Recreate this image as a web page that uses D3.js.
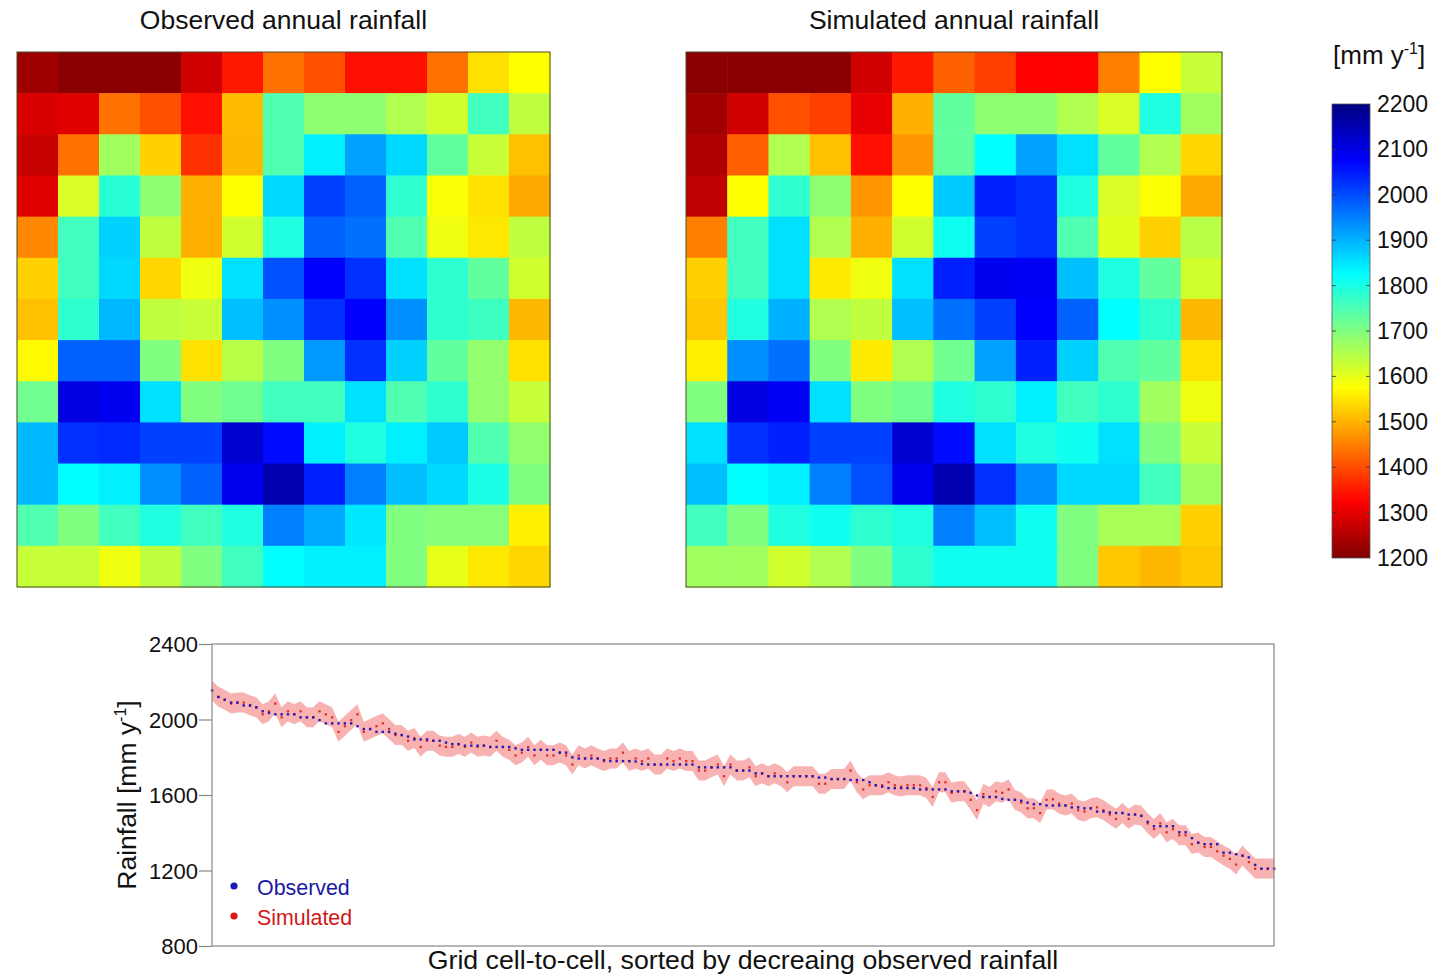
<!DOCTYPE html>
<html><head><meta charset="utf-8">
<script src="https://cdn.jsdelivr.net/npm/d3@7"></script>
<style>body{margin:0;background:#fff;} svg{display:block;font-family:Arial,"Liberation Sans",sans-serif;}</style>
</head><body>
<svg id="c" width="1453" height="976"></svg>
<script>
// Observed annual rainfall grid (13x13, rows top to bottom), mm/y
const observed = [
 [1230,1210,1210,1210,1279,1348,1435,1403,1340,1340,1435,1545,1575],
 [1287,1295,1435,1403,1340,1508,1747,1685,1685,1652,1620,1762,1637],
 [1270,1435,1668,1530,1372,1505,1747,1840,1918,1862,1730,1630,1513],
 [1295,1612,1785,1685,1497,1575,1862,2012,1980,1778,1580,1545,1490],
 [1458,1762,1870,1637,1497,1620,1794,1980,1965,1747,1590,1552,1637],
 [1530,1762,1862,1535,1590,1855,1997,2075,2028,1855,1780,1730,1620],
 [1513,1780,1895,1637,1630,1888,1935,2028,2075,1935,1780,1765,1505],
 [1570,1980,1980,1700,1545,1645,1700,1925,2028,1870,1730,1680,1545],
 [1715,2105,2090,1855,1700,1715,1762,1762,1855,1747,1780,1680,1630],
 [1895,2028,2035,2012,2012,2120,2065,1840,1794,1840,1878,1747,1680],
 [1895,1825,1840,1935,1980,2090,2155,2044,1950,1888,1862,1800,1700],
 [1747,1700,1762,1794,1762,1794,1950,1910,1848,1700,1693,1693,1560],
 [1630,1630,1590,1637,1700,1762,1825,1840,1840,1700,1598,1552,1535]
];
// Simulated annual rainfall grid
const simulated = [
 [1210,1210,1210,1210,1279,1348,1420,1387,1325,1325,1450,1575,1630],
 [1232,1279,1403,1387,1302,1497,1730,1685,1685,1652,1612,1794,1668],
 [1245,1420,1652,1513,1340,1474,1730,1825,1918,1855,1730,1652,1535],
 [1262,1575,1780,1685,1474,1575,1878,2044,2028,1794,1612,1578,1490],
 [1450,1762,1855,1652,1497,1620,1810,2012,2028,1747,1605,1530,1645],
 [1530,1762,1855,1555,1590,1855,2044,2090,2085,1888,1794,1730,1620],
 [1520,1794,1902,1652,1637,1888,1965,2012,2075,1980,1825,1780,1505],
 [1560,1935,1965,1700,1555,1652,1715,1918,2044,1870,1747,1730,1545],
 [1700,2105,2085,1855,1700,1715,1794,1780,1840,1762,1780,1668,1590],
 [1855,2028,2044,2012,2012,2120,2065,1855,1794,1810,1855,1700,1630],
 [1888,1825,1840,1950,1997,2090,2152,2028,1935,1862,1862,1762,1668],
 [1762,1700,1794,1810,1780,1794,1950,1888,1810,1700,1660,1660,1530],
 [1668,1668,1620,1652,1700,1780,1810,1810,1810,1700,1520,1505,1520]
];
const colorTicks = [1200,1300,1400,1500,1600,1700,1800,1900,2000,2100,2200];
const yTicks = [800,1200,1600,2000,2400];
const titles = ["Observed annual rainfall","Simulated annual rainfall"];

const svg = d3.select("#c");
// reversed jet colour map
const jetStops = [1200,1325,1450,1575,1700,1825,1950,2075,2200];
const jetCols = ["#800000","#ff0000","#ff8000","#ffff00","#80ff80","#00ffff","#0080ff","#0000ff","#000080"];
const color = d3.scaleLinear().domain(jetStops).range(jetCols).clamp(true);

const n = 13;
const panels = [{data:observed,x0:17,x1:550},{data:simulated,x0:686,x1:1222}];
panels.forEach((p,pi)=>{
  const xs = d3.scaleBand().domain(d3.range(n)).range([p.x0,p.x1]);
  const ys = d3.scaleBand().domain(d3.range(n)).range([52,587]);
  const g = svg.append("g");
  p.data.forEach((row,r)=>row.forEach((v,c)=>{
    g.append("rect").attr("x",xs(c)).attr("y",ys(r))
     .attr("width",xs.bandwidth()+0.6).attr("height",ys.bandwidth()+0.6)
     .attr("fill",color(v));
  }));
  g.append("rect").attr("x",p.x0).attr("y",52).attr("width",p.x1-p.x0).attr("height",535)
   .attr("fill","none").attr("stroke","#4a4a2a").attr("stroke-width",1);
  svg.append("text").attr("x",(p.x0+p.x1)/2).attr("y",29).attr("text-anchor","middle")
   .attr("font-size",26.5).attr("fill","#111").text(titles[pi]);
});

// colour bar
const cb = {x:1332,w:38,y0:104,y1:558};
const cbScale = d3.scaleLinear().domain([1200,2200]).range([cb.y1,cb.y0]);
const defs = svg.append("defs");
const grad = defs.append("linearGradient").attr("id","jet").attr("x1",0).attr("y1",1).attr("x2",0).attr("y2",0);
jetStops.forEach((s,i)=>grad.append("stop").attr("offset",(s-1200)/1000).attr("stop-color",jetCols[i]));
svg.append("rect").attr("x",cb.x).attr("y",cb.y0).attr("width",cb.w).attr("height",cb.y1-cb.y0)
  .attr("fill","url(#jet)").attr("stroke","#555").attr("stroke-width",0.8);
colorTicks.forEach(t=>{
  const y = cbScale(t);
  if(t>1200 && t<2200){
    svg.append("line").attr("x1",cb.x).attr("x2",cb.x+4).attr("y1",y).attr("y2",y).attr("stroke","#333").attr("stroke-width",0.8);
    svg.append("line").attr("x1",cb.x+cb.w-4).attr("x2",cb.x+cb.w).attr("y1",y).attr("y2",y).attr("stroke","#333").attr("stroke-width",0.8);
  }
  svg.append("text").attr("x",1377).attr("y",y+8).attr("font-size",23).attr("fill","#111").text(t);
});
const cbl = svg.append("text").attr("x",1333).attr("y",64).attr("font-size",26).attr("fill","#111");
cbl.append("tspan").text("[mm y");
cbl.append("tspan").attr("font-size",16).attr("dy",-10).text("-1");
cbl.append("tspan").attr("dy",10).text("]");

// bottom line plot
const flatObs = [], flatSim = [];
observed.forEach((row,r)=>row.forEach((v,c)=>{flatObs.push(v); flatSim.push(simulated[r][c]);}));
const order = d3.range(flatObs.length).sort((a,b)=>flatObs[b]-flatObs[a]);
const obsSorted = order.map(i=>flatObs[i]);
const simSorted = order.map(i=>flatSim[i]);

const px0=212, px1=1274, py0=644, py1=946;
const x = d3.scaleLinear().domain([0,obsSorted.length-1]).range([px0,px1]);
const y = d3.scaleLinear().domain([800,2400]).range([py1,py0]);
const clipId = "pc";
defs.append("clipPath").attr("id",clipId).append("rect").attr("x",px0).attr("y",py0).attr("width",px1-px0).attr("height",py1-py0);
const bandHalf = 10; // pixels
const area = d3.area().x((d,i)=>x(i)).y0(d=>y(d)+bandHalf).y1(d=>y(d)-bandHalf);
svg.append("path").datum(simSorted).attr("d",area).attr("fill","#f8b2b2")
  .attr("clip-path",`url(#${clipId})`);
svg.append("g").selectAll("rect").data(simSorted).join("rect")
  .attr("x",(d,i)=>x(i)-1).attr("y",d=>y(d)-1).attr("width",2.2).attr("height",2.2).attr("fill","#e0281e");
svg.append("g").selectAll("rect").data(obsSorted).join("rect")
  .attr("x",(d,i)=>x(i)-1.1).attr("y",d=>y(d)-1.1).attr("width",2.4).attr("height",2.4).attr("fill","#2a1ab0");

svg.append("rect").attr("x",px0).attr("y",py0).attr("width",px1-px0).attr("height",py1-py0)
  .attr("fill","none").attr("stroke","#888").attr("stroke-width",1.2);
const yAxis = svg.append("g").attr("transform",`translate(${px0},0)`)
  .call(d3.axisLeft(y).tickValues(yTicks).tickSize(13).tickPadding(1).tickFormat(d3.format("d")));
yAxis.select(".domain").remove();
yAxis.selectAll("line").attr("stroke","#888").attr("stroke-width",1.2);
yAxis.selectAll("text").attr("font-size",22).attr("fill","#111").attr("font-family","Arial,'Liberation Sans',sans-serif").attr("dy","0.36em");

const yl = svg.append("text").attr("transform","translate(136,795) rotate(-90)").attr("text-anchor","middle")
  .attr("font-size",26.5).attr("fill","#111");
yl.append("tspan").text("Rainfall [mm y");
yl.append("tspan").attr("font-size",16).attr("dy",-10).text("-1");
yl.append("tspan").attr("dy",10).text("]");
svg.append("text").attr("x",743).attr("y",969).attr("text-anchor","middle").attr("font-size",26.7).attr("fill","#111")
  .text("Grid cell-to-cell, sorted by decreaing observed rainfall");

// legend
const legend = [{t:"Observed",c:"#1a1ab4",tc:"#1a1aa0",y:888},{t:"Simulated",c:"#e01414",tc:"#d01818",y:918}];
legend.forEach(l=>{
  svg.append("circle").attr("cx",234).attr("cy",l.y-2).attr("r",3.6).attr("fill",l.c);
  svg.append("text").attr("x",257).attr("y",l.y+7).attr("font-size",21.4).attr("fill",l.tc).text(l.t);
});
</script>
</body></html>
